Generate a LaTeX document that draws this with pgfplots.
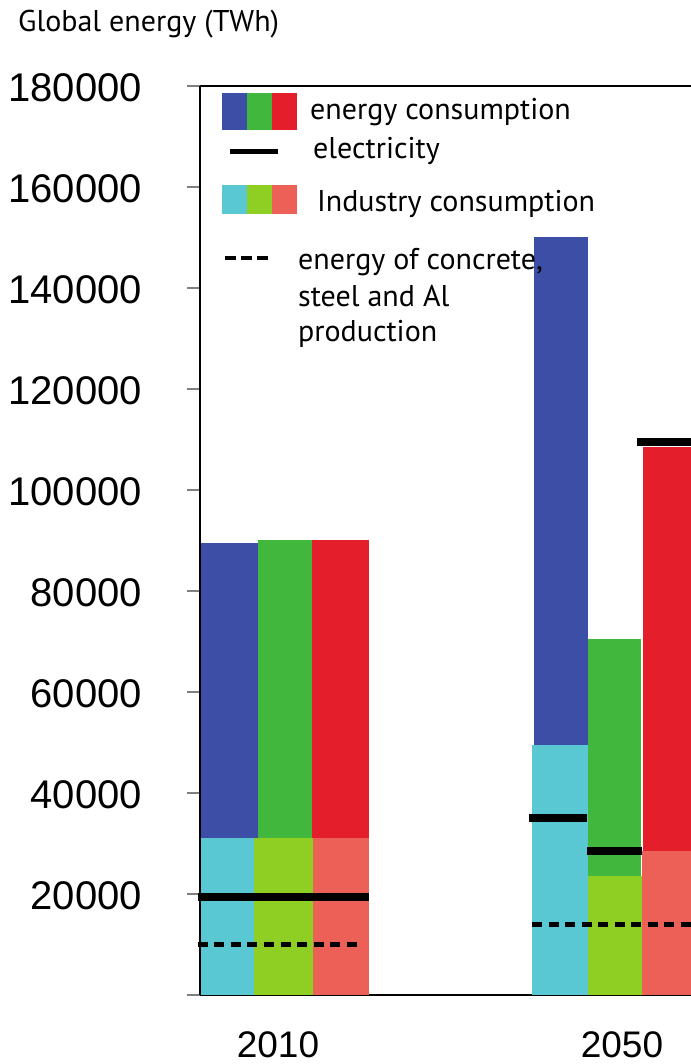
\documentclass[border=0pt]{standalone}
\usepackage{fontspec}
\setmainfont{Liberation Sans}
\newfontfamily\legfont{PT Sans}
\usepackage{pgfplots}
\pgfplotsset{compat=1.18}
\definecolor{cblue}{RGB}{61,78,166}
\definecolor{cgreen}{RGB}{65,183,62}
\definecolor{cred}{RGB}{228,30,43}
\definecolor{ccyan}{RGB}{90,200,210}
\definecolor{clime}{RGB}{143,206,35}
\definecolor{csalmon}{RGB}{236,96,88}
\begin{document}
\begin{tikzpicture}
\begin{axis}[
  at={(0,0)}, anchor=south west,
  scale only axis, width=520pt, height=909pt,
  xmin=0, xmax=5.2, ymin=0, ymax=180000,
  axis x line=box, axis y line=left,
  axis line style={-, line width=1.6pt, black},
  xtick={0.78,4.22}, xticklabels={2010,2050},
  xtick style={draw=none},
  scaled y ticks=false,
  ytick={0,20000,40000,60000,80000,100000,120000,140000,160000,180000},
  yticklabels={{},20000,40000,60000,80000,100000,120000,140000,160000,180000},
  tick align=outside, major tick length=13pt,
  ytick style={gray, line width=1.2pt},
  yticklabel style={font=\fontsize{40}{42}\selectfont, anchor=east, inner sep=0pt, xshift=-45pt, yshift=-2pt},
  xticklabel style={font=\fontsize{37}{40}\selectfont, anchor=base, inner sep=0pt, yshift=-49pt},
  clip=false,
]
% energy consumption bars (full height)
\addplot[ybar, bar width=0.57, bar shift=0pt, fill=cblue, draw=none] coordinates {(0.295,89500)};
\addplot[ybar, bar width=0.54, bar shift=0pt, fill=cgreen, draw=none] coordinates {(0.85,90000)};
\addplot[ybar, bar width=0.57, bar shift=0pt, fill=cred, draw=none] coordinates {(1.405,90000)};
\addplot[ybar, bar width=0.54, bar shift=0pt, fill=cblue, draw=none] coordinates {(3.61,150000)};
\addplot[ybar, bar width=0.53, bar shift=0pt, fill=cgreen, draw=none] coordinates {(4.145,70500)};
\addplot[ybar, bar width=0.56, bar shift=0pt, fill=cred, draw=none] coordinates {(4.71,108500)};
% industry consumption bars
\addplot[ybar, bar width=0.53, bar shift=0pt, fill=ccyan, draw=none] coordinates {(0.275,31000)};
\addplot[ybar, bar width=0.59, bar shift=0pt, fill=clime, draw=none] coordinates {(0.835,31000)};
\addplot[ybar, bar width=0.56, bar shift=0pt, fill=csalmon, draw=none] coordinates {(1.41,31000)};
\addplot[ybar, bar width=0.56, bar shift=0pt, fill=ccyan, draw=none] coordinates {(3.60,49500)};
\addplot[ybar, bar width=0.54, bar shift=0pt, fill=clime, draw=none] coordinates {(4.15,23500)};
\addplot[ybar, bar width=0.58, bar shift=0pt, fill=csalmon, draw=none] coordinates {(4.71,28500)};
% electricity
\addplot[black, line width=8pt] coordinates {(-0.02,19500) (1.69,19500)};
\addplot[black, line width=8pt] coordinates {(3.29,35000) (3.87,35000)};
\addplot[black, line width=8pt] coordinates {(3.87,28500) (4.42,28500)};
\addplot[black, line width=8pt] coordinates {(4.37,109500) (5.2,109500)};
% energy of concrete, steel and Al production
\addplot[black, line width=4.5pt, dash pattern=on 10pt off 6.5pt] coordinates {(-0.02,10000) (1.63,10000)};
\addplot[black, line width=4.5pt, dash pattern=on 10pt off 6.5pt] coordinates {(3.32,14000) (5.2,14000)};
\end{axis}
% legend
\fill[cblue] (22pt,865pt) rectangle (47pt,902pt);
\fill[cgreen] (47pt,865pt) rectangle (72pt,902pt);
\fill[cred] (72pt,865pt) rectangle (97pt,902pt);
\draw[black, line width=5pt] (30pt,843pt) -- (78pt,843pt);
\fill[ccyan] (22pt,781pt) rectangle (47pt,810pt);
\fill[clime] (47pt,781pt) rectangle (72pt,810pt);
\fill[csalmon] (72pt,781pt) rectangle (97pt,810pt);
\draw[black, line width=4pt, dash pattern=on 11pt off 5pt] (25pt,737pt) -- (69pt,737pt);
\begin{scope}[every node/.style={anchor=base west, inner sep=0pt, font=\legfont\fontsize{30}{32}\selectfont}]
\node at (110pt,875pt) {energy consumption};
\node at (113pt,836pt) {electricity};
\node at (117pt,783pt) {Industry consumption};
\node at (98pt,725pt) {energy of concrete,};
\node at (98pt,688pt) {steel and Al};
\node at (98pt,653pt) {production};
\node at (-182pt,963pt) {Global energy (TWh)};
\end{scope}
\pgfresetboundingbox
\path (-200pt,-69pt) rectangle (490pt,995pt);
\end{tikzpicture}
\end{document}
